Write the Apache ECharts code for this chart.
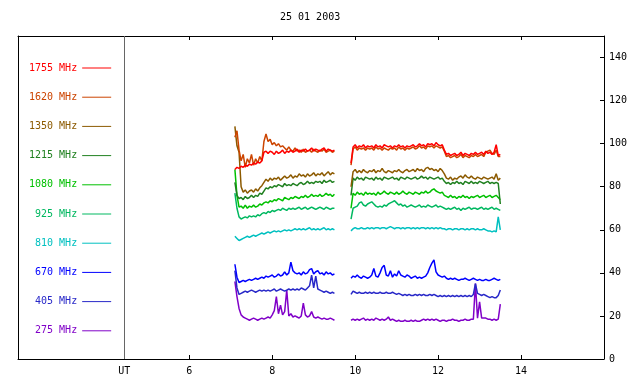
<!DOCTYPE html>
<html>
<head>
<meta charset="utf-8">
<script src="https://cdn.jsdelivr.net/npm/echarts@6/dist/echarts.min.js"></script>
<style>
  html, body { margin: 0; padding: 0; background: #fff; }
  #chart { width: 640px; height: 384px; }
</style>
</head>
<body>
<div id="chart"></div>
<script>
  var titleText = '25 01 2003';
  var xTicks = [6, 8, 10, 12, 14];
  var utMark = 4.43;          // position of the grey "UT" separator
  var xMin = 1.87, xMax = 16;
  var yMin = 0, yMax = 150, yStep = 20;

  // sampling: two observing windows, 0.05 h apart
  var startA = 7.10, countA = 49;
  var gapAt = 9.70;
  var startB = 9.90, countB = 73;
  var step = 0.05;

  var channels = ['1755 MHz', '1620 MHz', '1350 MHz', '1215 MHz', '1080 MHz',
                  '925 MHz', '810 MHz', '670 MHz', '405 MHz', '275 MHz'];
  var colors = ['#ff0000', '#cc4400', '#8c5a00', '#208020', '#00c000',
                '#00b860', '#00c0c0', '#0000ff', '#2828c8', '#8000c8'];

  // flux per channel: window A (49), null gap, window B (73)
  var f1755 = [
    88, 89, 88.5, 89.5, 89, 90, 89.5, 90.5, 90, 91,
    90.5, 91.5, 91, 92, 96, 96.5, 95.5, 96.5, 96, 95,
    96.5, 95.5, 96, 97, 95.5, 96.5, 96, 97, 96, 96.5,
    97.5, 96, 97, 96.5, 97.5, 96.5, 97, 98, 96.5, 97.5,
    97, 96.5, 97.5, 98, 96.5, 97.5, 97, 96.5, 97,
    null,
    91, 98.5, 99.5, 98, 99, 98.5, 99.5, 98, 99, 98.5,
    99, 98, 99.5, 98.5, 99, 98, 99.5, 99, 98.5, 99,
    98, 99, 98.5, 99.5, 98.5, 99, 98, 99, 98.5, 99,
    99.5, 98.5, 99, 100, 99, 99.5, 98.5, 100, 99.5, 100,
    99, 100.5, 99.5, 99, 99.5, 97, 95, 95.5, 94.5, 95,
    95.5, 94.5, 95, 96, 94.5, 95.5, 95, 94.5, 95.5, 95,
    96, 95, 95.5, 96, 95, 96.5, 95.5, 96, 95, 96,
    99.5, 94.5, 95
  ];
  var f1620 = [
    103, 106, 97, 92, 95, 89, 93, 91, 95, 90,
    93, 91, 94, 92, 101, 104.5, 101, 102, 99.5, 100.5,
    99, 100, 98.5, 99, 98, 97, 98.5, 97, 96.5, 98,
    96.5, 97, 96, 97.5, 96, 96.5, 97, 96, 97.5, 96.5,
    96, 97, 96.5, 97.5, 96, 96.5, 97, 96, 96.5,
    null,
    90, 97.5, 98.5, 97, 98, 97.5, 98, 97, 98, 97.5,
    98, 97, 98.5, 97.5, 98, 97, 98, 97.5, 97, 98,
    97.5, 98, 97, 98.5, 97.5, 98, 97, 98, 97.5, 98,
    98.5, 97.5, 98, 99, 98, 98.5, 97.5, 99, 98.5, 99,
    98, 99, 98.5, 98, 98.5, 96.5, 94, 94.5, 93.5, 94,
    94.5, 93.5, 94, 95, 93.5, 94.5, 94, 93.5, 94.5, 94,
    95, 94, 94.5, 95, 94, 96, 96.5, 97, 95.5, 95,
    97, 94, 94
  ];
  var f1350 = [
    108, 99, 96, 80, 77.5, 78.5, 77, 78, 78.5, 77.5,
    79, 78, 79.5, 80.5, 82, 83.5, 82.5, 84, 83, 84,
    83.5, 84.5, 83, 84, 85, 84, 84.5, 85.5, 84, 85,
    84.5, 86, 85, 85.5, 84.5, 86, 85, 85.5, 86.5, 85,
    86, 85.5, 86.5, 85, 86, 87, 85.5, 86.5, 86,
    null,
    80, 87, 88, 86.5, 87.5, 86.5, 88, 87, 86.5, 87.5,
    87, 88, 86.5, 87.5, 87, 88.5, 87, 86.5, 87.5, 87,
    86.5, 87.5, 87, 88, 87, 86.5, 87.5, 88, 87, 87.5,
    88, 87, 88.5, 87.5, 88, 87, 88.5, 89, 88, 88.5,
    87.5, 88, 87, 88.5, 87.5, 86, 84, 83.5, 84.5, 83,
    84, 83.5, 84.5, 85, 84, 85.5, 84.5, 84, 85, 84,
    83.5, 84.5, 84, 83.5, 84.5, 84, 83.5, 84, 84.5, 83.5,
    86, 83, 84
  ];
  var f1215 = [
    82, 76, 74.5, 75, 74, 75.5, 74.5, 75, 76, 75,
    76, 75.5, 77, 76.5, 78, 79.5, 79, 80, 79.5, 80.5,
    80, 81, 80.5, 80, 81.5, 80.5, 81, 80.5, 81.5, 81,
    80.5, 81.5, 82, 81, 81.5, 82.5, 81.5, 82, 81.5, 82.5,
    82, 82.5, 81.5, 83, 82, 82.5, 83, 82, 82.5,
    null,
    76, 84, 83, 84.5, 83.5, 84, 83, 84.5, 84, 83.5,
    84, 83, 84.5, 83.5, 84, 83, 84.5, 84, 83.5, 84,
    84.5, 83.5, 84, 83, 84.5, 84, 83.5, 84.5, 84, 83.5,
    84, 84.5, 83.5, 84, 85, 84, 84.5, 83.5, 84.5, 84,
    83.5, 84, 84.5, 83.5, 84, 82.5, 81.5, 82, 81, 82,
    81.5, 82.5, 81.5, 82, 81, 82.5, 82, 81.5, 82.5, 81.5,
    82, 81.5, 82.5, 82, 81.5, 82, 82.5, 81.5, 82, 81.5,
    82, 81.5, 72
  ];
  var f1080 = [
    88, 76, 70.5, 71, 70, 71.5, 70, 71, 70.5, 71.5,
    70.5, 71, 72, 71.5, 72.5, 73, 72.5, 73.5, 73, 74,
    73.5, 74.5, 74, 73.5, 75, 74.5, 74, 75, 74.5, 75.5,
    75, 74.5, 75.5, 75, 76, 75, 75.5, 76.5, 75.5, 76,
    75.5, 76.5, 75.5, 76, 77, 76, 76.5, 75.5, 76.5,
    null,
    70, 77, 76, 77.5, 76.5, 77, 76, 77.5, 76.5, 77,
    76.5, 77, 76, 77.5, 76.5, 77, 78, 77, 76.5, 77.5,
    77, 76.5, 77.5, 76.5, 77, 78, 77, 76.5, 77.5, 77,
    76.5, 77.5, 77, 76.5, 77.5, 77, 78, 77, 77.5, 78.5,
    79, 78, 77.5, 77, 77.5, 76, 75.5, 75, 76, 75,
    75.5, 74.5, 75.5, 75, 76, 75, 75.5, 74.5, 75.5, 75,
    75.5, 76, 75, 75.5, 76, 75, 75.5, 76, 75, 75.5,
    76, 75, 74
  ];
  var f925 = [
    77, 70, 66, 65, 65.5, 66, 65.5, 66.5, 66, 66.5,
    66, 67, 66.5, 67.5, 68, 67.5, 68.5, 68, 69, 68.5,
    69, 69.5, 69, 70, 69.5, 69, 70, 69.5, 70, 69.5,
    70, 70.5, 69.5, 70, 70.5, 69.5, 70, 70.5, 70, 69.5,
    70, 70.5, 70, 69.5, 70.5, 70, 69.5, 70, 70,
    null,
    65, 70, 70.5, 71, 72.5, 73, 71.5, 71, 72, 72.5,
    73, 72, 71, 70.5, 71, 70.5, 71.5, 71, 72, 72.5,
    73, 73.5, 72.5, 71.5, 72, 71, 71.5, 70.5, 71, 71.5,
    71, 70.5, 71, 71.5, 70.5, 71, 70.5, 71.5, 71, 70.5,
    71, 71.5, 70.5, 71, 70.5, 70, 69.5, 70, 69.5, 70,
    70.5, 69.5, 70, 69, 70, 69.5, 70, 70.5, 69.5, 70,
    70, 69.5, 70, 70.5, 69.5, 70, 69.5, 70, 70.5, 69.5,
    70, 69.5, 69
  ];
  var f810 = [
    57, 56, 55, 55.5, 56, 56.5, 57, 56.5, 57, 57.5,
    57, 57.5, 58, 58.5, 58, 58.5, 59, 58.5, 59, 59.5,
    59, 59.5, 59, 59.5, 60, 59.5, 60, 59.5, 60, 60.5,
    60, 60.5, 60, 60.5, 60, 60.5, 61, 60, 60.5, 60,
    60.5, 60, 60.5, 61, 60, 60.5, 60, 60.5, 60,
    null,
    59.5, 60.5, 61, 60.5, 60.5, 61, 60.5, 60.5, 61, 60.5,
    61, 60.5, 61, 61, 60.5, 61, 61, 60.5, 61, 61.5,
    61, 60.5, 61, 61, 60.5, 61, 60.5, 61, 61, 60.5,
    61, 60.5, 61, 60.5, 61, 61, 60.5, 61, 60.5, 61,
    60.5, 61, 60.5, 61, 60.5, 60.5, 60, 60.5, 60.5, 60,
    60.5, 60.5, 60, 60.5, 60.5, 60, 60.5, 60, 60.5, 60.5,
    60, 60.5, 60, 60, 60.5, 60, 59.5, 59.5, 59, 59.5,
    59, 66, 60
  ];
  var f670 = [
    44, 38, 35.5, 36, 36.5, 36, 36.5, 37, 36.5, 37,
    37.5, 37, 37.5, 38, 37.5, 38.5, 38, 38.5, 39, 38,
    38.5, 39.5, 38.5, 39, 40.5, 39, 40, 45, 41, 40,
    39.5, 40, 39, 40.5, 39.5, 40, 41.5, 42, 39.5, 40.5,
    41, 39.5, 40, 39, 40.5, 39.5, 40, 39, 39.5,
    null,
    37.5, 38.5, 38, 39, 38, 37.5, 38.5, 38, 37.5, 38,
    39, 42, 38.5, 38, 40, 42.5, 43.5, 39, 38.5, 41,
    38, 39.5, 38.5, 41, 39, 38.5, 38, 39, 38.5, 37.5,
    38, 38.5, 37.5, 38, 37.5, 38, 38.5, 40, 42.5, 44.5,
    46, 40.5, 39, 38.5, 38, 38.5, 37.5, 37, 37.5, 37,
    37.5, 37, 36.5, 37, 37, 37.5, 37, 36.5, 37, 37.5,
    37, 36.5, 37, 36.5, 36.5, 37, 36.5, 36.5, 37, 37.5,
    37, 36.5, 37
  ];
  var f405 = [
    41, 33, 30, 30.5, 31, 31.5, 31, 31.5, 32, 31.5,
    31, 31.5, 32, 31.5, 32, 31.5, 32, 31.5, 32, 32.5,
    31.5, 32, 32.5, 32, 31.5, 32, 32.5, 32, 32.5, 32,
    32.5, 32, 33, 32.5, 32, 33, 34, 39, 33, 38.5,
    32.5, 32, 31.5, 31, 31.5, 31, 30.5, 31, 30.5,
    null,
    30, 31.5, 31, 30.5, 31, 30.5, 30.5, 31, 30.5, 31,
    30.5, 31, 30.5, 30.5, 31, 30.5, 30.5, 31, 30.5, 30.5,
    31, 30.5, 30, 30.5, 30, 29.5, 30, 29.5, 30, 29.5,
    29.5, 30, 29.5, 30, 29.5, 30, 29.5, 29.5, 30, 29.5,
    30, 29.5, 29, 29.5, 29, 29.5, 29, 29.5, 29, 29.5,
    29, 29.5, 29, 29.5, 29, 29.5, 29, 29.5, 29, 30,
    35, 30.5, 30, 29.5, 30, 29.5, 29, 28.5, 29, 28.5,
    28.5, 29.5, 32
  ];
  var f275 = [
    36, 29, 23.5, 20.5, 19.5, 19, 18.5, 18, 18.5, 19,
    18.5, 18, 18.5, 19, 18.5, 19, 19.5, 19, 20.5, 22.5,
    29, 21, 25, 20.5, 22, 32, 20, 21, 19.5, 20,
    19.5, 19, 20, 26, 20.5, 19.5, 20, 22, 19.5, 19,
    19.5, 19, 18.5, 19, 18.5, 18.5, 19, 18.5, 18,
    null,
    18, 18.5, 18, 18.5, 18, 18.5, 19, 18, 18.5, 18,
    18.5, 18, 19, 18.5, 18, 18.5, 18, 18.5, 19.5, 18,
    18.5, 18, 17.5, 18, 17.5, 17.5, 18, 17.5, 17.5, 18,
    17.5, 18, 17.5, 17.5, 18, 18.5, 18, 18.5, 18, 18.5,
    18, 18.5, 18, 17.5, 18, 18, 17.5, 18, 18, 18.5,
    18, 18, 17.5, 18, 18, 18.5, 18, 18, 18.5, 18.5,
    35, 19, 26.5, 19, 19, 19, 18.5, 18.5, 18, 18.5,
    18, 18.5, 25.5
  ];
  var fluxes = [f1755, f1620, f1350, f1215, f1080, f925, f810, f670, f405, f275];

  var times = [];
  for (var i = 0; i < countA; i++) times.push(+(startA + i * step).toFixed(2));
  times.push(gapAt);
  for (var j = 0; j < countB; j++) times.push(+(startB + j * step).toFixed(2));

  var font = 'DejaVu Sans Mono';

  // highest frequency drawn last so it sits on top, as in the original plot
  var series = [];
  for (var k = channels.length - 1; k >= 0; k--) {
    series.push({
      name: channels[k],
      type: 'line',
      showSymbol: false,
      connectNulls: false,
      yAxisIndex: 0,
      xAxisIndex: 0,
      color: colors[k],
      lineStyle: { width: 1.5, color: colors[k] },
      data: times.map((function(vals) {
        return function(t, n) { return [t, vals[n]]; };
      })(fluxes[k]))
    });
  }
  series[0].markLine = {
    silent: true,
    symbol: 'none',
    label: { show: false },
    lineStyle: { color: '#666', type: 'solid', width: 1 },
    data: [{ xAxis: utMark }]
  };

  var chart = echarts.init(document.getElementById('chart'), null, { renderer: 'canvas' });

  var option = {
    animation: false,
    backgroundColor: '#fff',
    title: {
      text: titleText,
      left: 280,
      top: 11,
      padding: 0,
      textStyle: { fontFamily: font, fontSize: 10, fontWeight: 'normal', color: '#000', lineHeight: 12 }
    },
    legend: {
      orient: 'vertical',
      left: 24,
      top: 57,
      align: 'right',
      icon: 'rect',
      itemWidth: 29,
      itemHeight: 1,
      itemGap: 17.2,
      selectedMode: false,
      textStyle: { fontFamily: font, fontSize: 10, lineHeight: 12 },
      data: channels.map(function(name, k) {
        return { name: name, textStyle: { color: colors[k] } };
      })
    },
    grid: { left: 18, right: 36, top: 36, bottom: 25, containLabel: false, outerBoundsMode: 'none' },
    xAxis: [{
      type: 'value',
      position: 'bottom',
      min: xMin,
      max: xMax,
      axisLine: { onZero: false, lineStyle: { color: '#000', width: 1 } },
      axisTick: { inside: true, length: 4, customValues: xTicks, lineStyle: { color: '#000' } },
      axisLabel: {
        customValues: [utMark].concat(xTicks),
        margin: 7,
        fontFamily: font, fontSize: 10, color: '#000',
        formatter: function(v) { return Math.abs(v - utMark) < 0.01 ? 'UT' : String(v); }
      },
      splitLine: { show: false }
    }, {
      type: 'value',
      position: 'top',
      min: xMin,
      max: xMax,
      axisLine: { onZero: false, lineStyle: { color: '#000', width: 1 } },
      axisTick: { inside: true, length: 4, customValues: xTicks, lineStyle: { color: '#000' } },
      axisLabel: { show: false },
      splitLine: { show: false }
    }],
    yAxis: [{
      type: 'value',
      position: 'right',
      min: yMin,
      max: yMax,
      interval: yStep,
      axisLine: { show: true, onZero: false, lineStyle: { color: '#000', width: 1 } },
      axisTick: { show: true, inside: true, length: 4, lineStyle: { color: '#000' } },
      axisLabel: { margin: 5, showMaxLabel: false, fontFamily: font, fontSize: 10, color: '#000' },
      splitLine: { show: false }
    }, {
      type: 'value',
      position: 'left',
      min: yMin,
      max: yMax,
      axisLine: { show: true, onZero: false, lineStyle: { color: '#000', width: 1 } },
      axisTick: { show: false },
      axisLabel: { show: false },
      splitLine: { show: false }
    }],
    series: series
  };

  chart.setOption(option);
</script>
</body>
</html>
